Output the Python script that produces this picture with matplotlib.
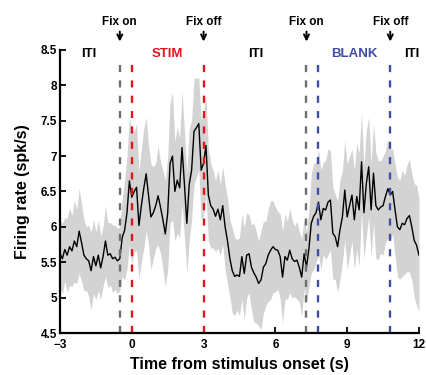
import numpy as np
import matplotlib
matplotlib.use('Agg')
import matplotlib.pyplot as plt

plt.rcParams['font.family'] = ['Liberation Sans', 'DejaVu Sans']
plt.rcParams['font.weight'] = 'bold'

# time bins (s), 100 ms
t = np.linspace(-3, 12, 151)

# mean firing rate (spk/s)
rate = [
	5.62, 5.55, 5.68, 5.6, 5.72, 5.66, 5.8, 5.72, 5.94, 5.78,
	5.6, 5.55, 5.52, 5.38, 5.58, 5.45, 5.6, 5.42, 5.58, 5.8,
	5.6, 5.62, 5.55, 5.57, 5.52,
	5.55, 5.85, 5.95, 6.2, 6.65, 6.42, 6.5, 6.56, 6.02, 6.3,
	6.54, 6.75, 6.45, 6.14, 6.2,
	6.3, 6.44, 6.28, 6.1, 5.9, 6.19, 6.9, 7.0, 6.5, 6.66,
	6.55, 7.12, 6.6, 6.05, 6.6, 6.8, 7.35, 7.4, 7.46, 6.8,
	6.9, 7.15, 6.45, 6.3, 6.25, 6.15, 6.25, 6.1, 6.3, 6.0,
	5.8, 5.55, 5.38, 5.3, 5.32,
	5.3, 5.58, 5.34, 5.6, 5.62, 5.43, 5.35, 5.29, 5.2, 5.25,
	5.43, 5.48, 5.6, 5.67, 5.72, 5.68, 5.67, 5.58, 5.29, 5.58,
	5.53, 5.67, 5.55, 5.51, 5.53, 5.43, 5.29, 5.62, 5.43,
	5.69, 6.05, 6.15, 6.2, 6.35, 6.1, 6.26, 6.24, 6.35, 6.38,
	5.91, 5.86, 5.72, 5.96, 6.14, 6.52, 6.14, 6.3, 6.45, 6.1,
	6.43, 6.24, 6.92, 6.2, 6.61, 6.85, 6.24, 6.76, 6.3, 6.24,
	6.28, 6.3, 6.43, 6.54, 6.45, 6.5, 6.24, 6.0, 5.96, 6.05,
	6.03, 6.12, 6.16, 6.0, 5.81, 5.74, 5.6,
]

# half-width of the shaded band (sem)
sem = [
	0.48, 0.5, 0.45, 0.52, 0.55, 0.5, 0.58, 0.52, 0.6, 0.55,
	0.5, 0.45, 0.5, 0.55, 0.52, 0.48, 0.5, 0.45, 0.42, 0.5,
	0.46, 0.44, 0.48, 0.45, 0.46,
	0.45, 0.55, 0.7, 0.8, 0.9, 0.95, 0.85, 0.9, 0.75, 0.8,
	0.85, 0.8, 0.7, 0.75, 0.65,
	0.6, 0.7, 0.65, 0.7, 0.75, 0.8, 0.85, 0.9, 0.7, 0.75,
	0.7, 0.8, 0.75, 0.7, 0.8, 0.7, 0.75, 0.7, 0.65, 0.7,
	0.75, 0.7, 0.65, 0.6, 0.55, 0.5, 0.55, 0.5, 0.55, 0.6,
	0.6, 0.55, 0.6, 0.55, 0.5,
	0.55, 0.6, 0.65, 0.6, 0.55, 0.6, 0.7, 0.65, 0.6, 0.7,
	0.65, 0.6, 0.65, 0.7, 0.65, 0.6, 0.55, 0.6, 0.65, 0.6,
	0.55, 0.6, 0.55, 0.5, 0.55, 0.5, 0.55, 0.5, 0.5,
	0.55, 0.7, 0.75, 0.7, 0.75, 0.7, 0.65, 0.7, 0.75, 0.7,
	0.65, 0.6, 0.65, 0.7, 0.65, 0.7, 0.75, 0.7, 0.65, 0.7,
	0.75, 0.8, 0.7, 0.65, 0.75, 0.7, 0.65, 0.7, 0.75, 0.7,
	0.65, 0.7, 0.65, 0.7, 0.65, 0.6, 0.65, 0.7, 0.7, 0.75,
	0.7, 0.75, 0.8, 0.75, 0.8, 0.85, 0.8,
]

# event markers
event_x = [-0.5, 0, 3, 7.3, 7.8, 10.8]
event_col = ['#6e6e6e', '#e3141b', '#e3141b', '#6e6e6e', '#3f4ea0', '#3f4ea0']
arrow_x = [-0.5, 3, 7.3, 10.8]
arrow_txt = ['Fix on', 'Fix off', 'Fix on', 'Fix off']
period_x = [-1.8, 1.5, 5.2, 9.3, 11.7]
period_txt = ['ITI', 'STIM', 'ITI', 'BLANK', 'ITI']
period_col = ['black', '#e3141b', 'black', '#3f4ea0', 'black']

rate = np.array(rate)
sem = np.array(sem)

fig = plt.figure(figsize=(4.26, 3.75), dpi=100)
ax = fig.add_axes([0.1408, 0.112, 0.8427, 0.7547])

ax.fill_between(t, rate - sem, rate + sem, color='#d3d3d3', lw=0)
ax.plot(t, rate, color='black', lw=1)

for x, c in zip(event_x, event_col):
	ax.plot([x, x], [4.5, 8.4], color=c, lw=1.7, dashes=(3, 3.5))

# arrows + labels above the axes
for x, s in zip(arrow_x, arrow_txt):
	ax.annotate('', xy=(x, 1.02), xytext=(x, 1.075),
		xycoords=('data', 'axes fraction'), textcoords=('data', 'axes fraction'),
		arrowprops=dict(arrowstyle='->', color='black', lw=1.4, mutation_scale=9))
	ax.text(x, 1.10, s, transform=ax.get_xaxis_transform(), ha='center', va='center',
		fontsize=8.5, fontweight='bold')

for x, s, c in zip(period_x, period_txt, period_col):
	ax.text(x, 8.44, s, ha='center', va='center', fontsize=9.5, fontweight='bold', color=c)

ax.set_xlim(-3, 12)
ax.set_ylim(4.5, 8.5)
ax.set_xticks([-3, 0, 3, 6, 9, 12])
yt = [4.5, 5, 5.5, 6, 6.5, 7, 7.5, 8, 8.5]
ax.set_yticks(yt)
ax.set_yticklabels([('%g' % v) for v in yt])

ax.spines['top'].set_visible(False)
ax.spines['right'].set_visible(False)
ax.spines['left'].set_linewidth(1.6)
ax.spines['bottom'].set_linewidth(1.6)
ax.tick_params(direction='in', length=4, width=1.3, labelsize=8.5)
ax.tick_params(axis='x', pad=4)
ax.tick_params(axis='y', pad=2)
for lab in ax.get_xticklabels() + ax.get_yticklabels():
	lab.set_fontweight('bold')

ax.set_xlabel('Time from stimulus onset (s)', fontsize=11.5, fontweight='bold', labelpad=5)
ax.set_ylabel('Firing rate (spk/s)', fontsize=11.5, fontweight='bold', labelpad=8)

fig.savefig('out.png', dpi=100)
